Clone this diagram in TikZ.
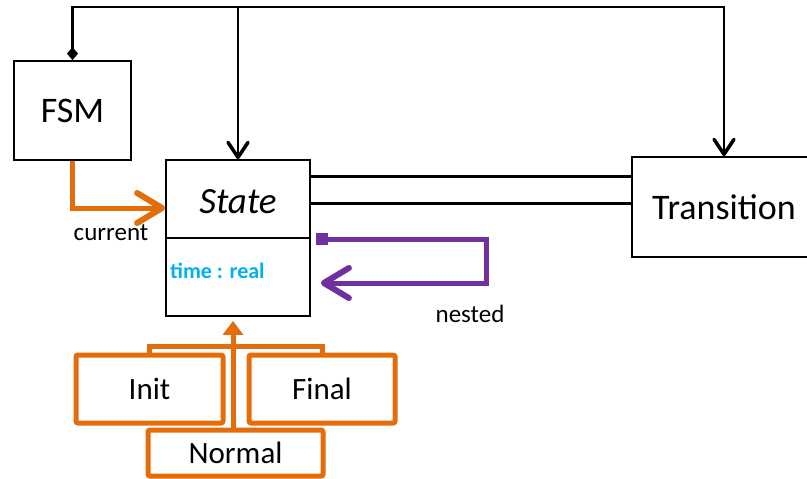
\documentclass[tikz,border=0pt]{standalone}
\usepackage{fontspec}
\setmainfont{Carlito}
\usetikzlibrary{arrows.meta,calc}
\definecolor{umlorange}{HTML}{E46C0A}
\definecolor{umlpurple}{HTML}{7030A0}
\definecolor{umlcyan}{HTML}{00B0F0}
\tikzset{
  classbox/.style={draw=black,line width=1.8pt,fill=white,inner sep=0pt},
  subbox/.style={draw=umlorange,line width=5pt,rounded corners=2pt,fill=white,inner sep=0pt,
    font=\fontsize{31}{36}\selectfont},
  assoc/.style={draw=black,line width=2.8pt},
  smallbarb/.tip={Straight Barb[length=15pt,width=20pt,line width=3.5pt,round]},
  bigbarb/.tip={Straight Barb[length=25pt,width=30pt,line width=6pt,round]},
  orangelink/.style={draw=umlorange,line width=5pt},
  purplelink/.style={draw=umlpurple,line width=5pt},
  lbl/.style={font=\fontsize{25}{30}\selectfont,inner sep=0pt},
}
\begin{document}
\begin{tikzpicture}[x=1pt,y=-1pt]
\useasboundingbox (0,0) rectangle (807,479);
\fill[white] (0,0) rectangle (807,479);

% classes
\node[classbox,minimum width=117pt,minimum height=99pt,font=\fontsize{36}{41}\selectfont]
  (fsm) at (72.5,110.5) {FSM};
\node[classbox,minimum width=144pt,minimum height=156pt] (state) at (238,238) {};
\draw[line width=1.8pt] (state.west) -- (state.east);
\node[inner sep=0pt,font=\fontsize{37}{42}\selectfont\itshape] (statename)
  at ($(state.north)+(0,43)$) {State};
\node[anchor=west,inner sep=0pt,text=umlcyan,font=\fontsize{22}{26}\selectfont\bfseries] (attr)
  at (170,271) {time : real};
\node[classbox,minimum width=184pt,minimum height=100pt,font=\fontsize{36}{41}\selectfont]
  (trans) at (724,207) {Transition};

% subclasses of State
\node[subbox,minimum width=147pt,minimum height=68pt] (init) at (149.5,389) {Init};
\node[subbox,minimum width=146pt,minimum height=68pt] (final) at (322,389) {Final};
\node[subbox,minimum width=175pt,minimum height=46pt] (normal) at (235.5,453) {Normal};

% composition from FSM to State and Transition
\coordinate (top) at (0,7);
\draw[assoc,{Diamond[length=13pt,width=11pt]}-smallbarb]
  (fsm.north) -- (fsm.north |- top) -- (trans.north |- top) -- (trans.north);
\draw[assoc,-smallbarb] (state.north |- top) -- (state.north);

% source / target associations between State and Transition
\draw[assoc] ($(state.north east)+(0,17)$) -- ($(trans.north west)+(0,20)$);
\draw[assoc] ($(state.north east)+(0,44)$) -- ($(trans.north west)+(0,47)$);

% current state
\draw[orangelink,-bigbarb] (fsm.south) |- ($(state.west)+(0,-30)$);
\node[lbl] (current) at (111,233) {current};

% nested states
\draw[purplelink,{Square[length=12pt,width=12pt]}-bigbarb]
  ($(state.east)+(5,1)$) -- ++(171,0) |- ($(state.east)+(10,45)$);
\node[lbl] (nested) at (470,314) {nested};

% generalisation
\coordinate (hub) at ($(state.south)+(-5,30)$);
\draw[orangelink] (init.north) |- (hub) -| (final.north);
\draw[orangelink,-{Triangle[length=14pt,width=20pt]}]
  (normal.north -| hub) -- ($(state.south -| hub)+(0,4)$);
\end{tikzpicture}
\end{document}
